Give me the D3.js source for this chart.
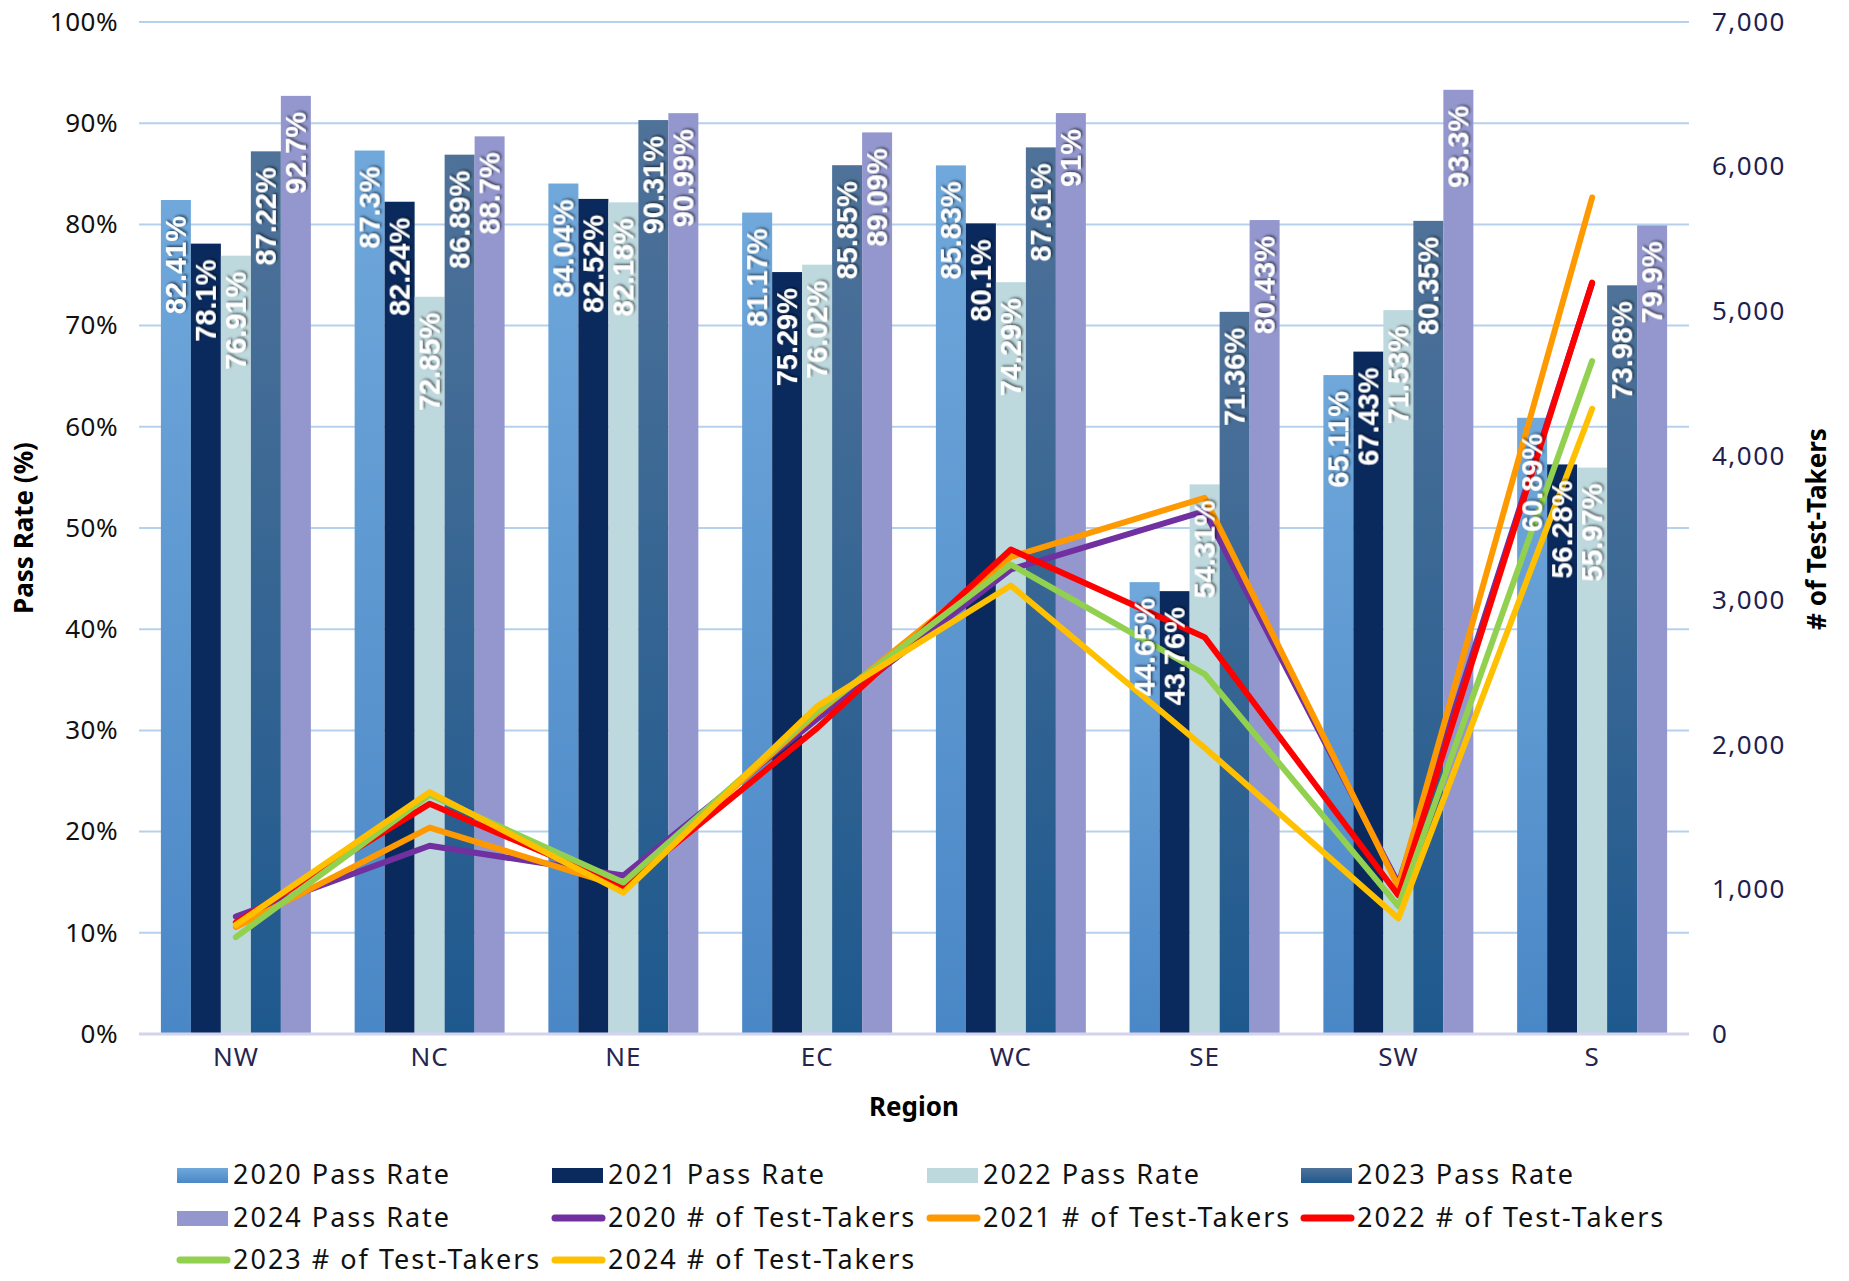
<!DOCTYPE html>
<html>
<head>
<meta charset="utf-8">
<script src="https://cdn.jsdelivr.net/npm/d3@7"></script>
<style>
  body { margin: 0; background: #fff; }
  svg { display: block; }
</style>
</head>
<body>
<div id="chart"></div>
<script>
var regions = ["NW", "NC", "NE", "EC", "WC", "SE", "SW", "S"];
var years = ["2020", "2021", "2022", "2023", "2024"];

// pass rates (%) per year, in region order
var pass2020 = [82.41, 87.3, 84.04, 81.17, 85.83, 44.65, 65.11, 60.89];
var pass2021 = [78.1, 82.24, 82.52, 75.29, 80.1, 43.76, 67.43, 56.28];
var pass2022 = [76.91, 72.85, 82.18, 76.02, 74.29, 54.31, 71.53, 55.97];
var pass2023 = [87.22, 86.89, 90.31, 85.85, 87.61, 71.36, 80.35, 73.98];
var pass2024 = [92.7, 88.7, 90.99, 89.09, 91, 80.43, 93.3, 79.9];

// number of test-takers per year
var takers2020 = [812, 1302, 1096, 2180, 3213, 3617, 1040, 5190];
var takers2021 = [739, 1428, 1016, 2220, 3300, 3709, 1020, 5786];
var takers2022 = [771, 1592, 1020, 2116, 3351, 2745, 960, 5198];
var takers2023 = [670, 1655, 1048, 2232, 3247, 2490, 885, 4655];
var takers2024 = [755, 1673, 978, 2266, 3102, 1980, 800, 4325];

var leftTicks = [0, 10, 20, 30, 40, 50, 60, 70, 80, 90, 100];
var rightTicks = [0, 1000, 2000, 3000, 4000, 5000, 6000, 7000];

var passRates = [pass2020, pass2021, pass2022, pass2023, pass2024];
var takers = [takers2020, takers2021, takers2022, takers2023, takers2024];

var barFill = ["url(#g2020)", "#0a2a5e", "#bed9de", "url(#g2023)", "#9397cd"];
var lineColor = ["#7030a0", "#ff9900", "#ff0000", "#92d050", "#ffc000"];

var width = 1849, height = 1281;
var plot = {left: 139, right: 1689, top: 22, bottom: 1034};

var svg = d3.select("#chart")
    .append("svg")
        .attr("width", width)
        .attr("height", height)
        .style("font-family", "'Noto Sans', sans-serif");

var defs = svg.append("defs");
function vGrad(id, top, bottom) {
    var g = defs.append("linearGradient")
        .attr("id", id)
        .attr("x1", 0).attr("y1", 0).attr("x2", 0).attr("y2", 1);
    g.append("stop").attr("offset", "0%").attr("stop-color", top);
    g.append("stop").attr("offset", "100%").attr("stop-color", bottom);
}
vGrad("g2020", "#70a8db", "#4a87c6");
vGrad("g2023", "#4f7299", "#1e598e");

var shadow = defs.append("filter")
    .attr("id", "shadow")
    .attr("x", "-30%").attr("y", "-30%").attr("width", "160%").attr("height", "160%");
shadow.append("feDropShadow")
    .attr("dx", 1.5).attr("dy", 1.5)
    .attr("stdDeviation", 1.2)
    .attr("flood-color", "#000")
    .attr("flood-opacity", 0.6);

var x0 = d3.scaleBand()
    .domain(regions)
    .range([plot.left, plot.right]);

var x1 = d3.scaleBand()
    .domain(years)
    .range([0, x0.bandwidth()])
    .paddingOuter(0.73);

var y = d3.scaleLinear()
    .domain([0, 100])
    .range([plot.bottom, plot.top]);

var y2 = d3.scaleLinear()
    .domain([0, 7000])
    .range([plot.bottom, plot.top]);

// gridlines
svg.append("g")
    .selectAll("line")
    .data(leftTicks.slice(1))
    .enter()
    .append("line")
        .attr("x1", plot.left)
        .attr("x2", plot.right)
        .attr("y1", function(d) { return y(d); })
        .attr("y2", function(d) { return y(d); })
        .attr("stroke", "#b6d1ee")
        .attr("stroke-width", 2);

// left axis
var leftAxis = svg.append("g")
    .attr("transform", "translate(" + plot.left + ",0)")
    .call(d3.axisLeft(y).tickValues(leftTicks).tickSize(0).tickPadding(21)
        .tickFormat(function(d) { return d + "%"; }));
leftAxis.select(".domain").remove();
leftAxis.selectAll("text")
    .style("font-size", "26px")
    .style("letter-spacing", "0.5px")
    .style("font-family", "'Noto Sans', sans-serif")
    .attr("fill", "#111");

// right axis
var rightAxis = svg.append("g")
    .attr("transform", "translate(" + plot.right + ",0)")
    .call(d3.axisRight(y2).tickValues(rightTicks).tickSize(0).tickPadding(23)
        .tickFormat(d3.format(",")));
rightAxis.select(".domain").remove();
rightAxis.selectAll("text")
    .style("font-size", "26px")
    .style("letter-spacing", "1.5px")
    .style("font-family", "'Noto Sans', sans-serif")
    .attr("fill", "#1e1e4f");

// bars
var groups = svg.append("g")
    .selectAll("g")
    .data(regions)
    .enter()
    .append("g")
        .attr("transform", function(d) { return "translate(" + x0(d) + ",0)"; });

groups.selectAll("rect")
    .data(function(d, i) {
        return years.map(function(yr, k) { return {year: yr, k: k, v: passRates[k][i]}; });
    })
    .enter()
    .append("rect")
        .attr("x", function(d) { return x1(d.year); })
        .attr("y", function(d) { return y(d.v); })
        .attr("width", x1.bandwidth())
        .attr("height", function(d) { return y(0) - y(d.v); })
        .attr("fill", function(d) { return barFill[d.k]; });

// baseline
svg.append("line")
    .attr("x1", plot.left)
    .attr("x2", plot.right)
    .attr("y1", y(0))
    .attr("y2", y(0))
    .attr("stroke", "#d3d3ee")
    .attr("stroke-width", 3);

// lines
var line = d3.line()
    .x(function(d, i) { return x0(regions[i]) + x0.bandwidth() / 2; })
    .y(function(d) { return y2(d); });

svg.append("g")
    .selectAll("path")
    .data(takers)
    .enter()
    .append("path")
        .attr("d", line)
        .attr("fill", "none")
        .attr("stroke", function(d, k) { return lineColor[k]; })
        .attr("stroke-width", 6)
        .attr("stroke-linejoin", "round")
        .attr("stroke-linecap", "round");

// bar value labels (on top of the lines)
var labelGroups = svg.append("g")
    .selectAll("g")
    .data(regions)
    .enter()
    .append("g")
        .attr("transform", function(d) { return "translate(" + x0(d) + ",0)"; });

labelGroups.selectAll("text")
    .data(function(d, i) {
        return years.map(function(yr, k) { return {year: yr, k: k, v: passRates[k][i]}; });
    })
    .enter()
    .append("text")
        .attr("transform", function(d) {
            return "translate(" + (x1(d.year) + x1.bandwidth() / 2) + "," + (y(d.v) + 16) + ")rotate(-90)";
        })
        .attr("dy", "0.36em")
        .attr("text-anchor", "end")
        .attr("fill", "#fff")
        .attr("filter", "url(#shadow)")
        .style("font-family", "'Liberation Sans', Arial, sans-serif")
        .style("font-weight", "bold")
        .style("font-size", "29px")
        .text(function(d) { return d.v + "%"; });

// x axis labels
var bottomAxis = svg.append("g")
    .attr("transform", "translate(0," + plot.bottom + ")")
    .call(d3.axisBottom(x0).tickSize(0).tickPadding(14));
bottomAxis.select(".domain").remove();
bottomAxis.selectAll("text")
    .style("font-size", "26px")
    .style("letter-spacing", "1px")
    .style("font-family", "'Noto Sans', sans-serif")
    .attr("fill", "#25254f");

// axis titles
svg.append("text")
    .attr("x", (plot.left + plot.right) / 2)
    .attr("y", 1116)
    .attr("text-anchor", "middle")
    .style("font-size", "26px")
    .style("font-weight", "bold")
    .text("Region");

svg.append("text")
    .attr("transform", "translate(33,528)rotate(-90)")
    .attr("text-anchor", "middle")
    .style("font-size", "26px")
    .style("font-weight", "bold")
    .text("Pass Rate (%)");

svg.append("text")
    .attr("transform", "translate(1826,529)rotate(-90)")
    .attr("text-anchor", "middle")
    .style("font-size", "26px")
    .style("font-weight", "bold")
    .text("# of Test-Takers");

// legend
var legendItems = [];
years.forEach(function(yr, k) {
    legendItems.push({label: yr + " Pass Rate", type: "bar", color: barFill[k]});
});
years.forEach(function(yr, k) {
    legendItems.push({label: yr + " # of Test-Takers", type: "line", color: lineColor[k]});
});

var legendCols = [177, 552, 927, 1301];
var legendRows = [1175, 1218, 1260];

var legend = svg.append("g")
    .selectAll("g")
    .data(legendItems)
    .enter()
    .append("g")
        .attr("transform", function(d, i) {
            return "translate(" + legendCols[i % 4] + "," + legendRows[Math.floor(i / 4)] + ")";
        });

legend.filter(function(d) { return d.type === "bar"; })
    .append("rect")
        .attr("x", 0)
        .attr("y", -7)
        .attr("width", 51)
        .attr("height", 15)
        .attr("fill", function(d) { return d.color; });

legend.filter(function(d) { return d.type === "line"; })
    .append("line")
        .attr("x1", 3)
        .attr("x2", 50)
        .attr("y1", 0)
        .attr("y2", 0)
        .attr("stroke", function(d) { return d.color; })
        .attr("stroke-width", 7)
        .attr("stroke-linecap", "round");

legend.append("text")
    .attr("x", 56)
    .attr("y", 0)
    .attr("dy", "0.35em")
    .style("font-size", "27px")
    .style("letter-spacing", "2px")
    .attr("fill", "#111")
    .text(function(d) { return d.label; });
</script>
</body>
</html>
